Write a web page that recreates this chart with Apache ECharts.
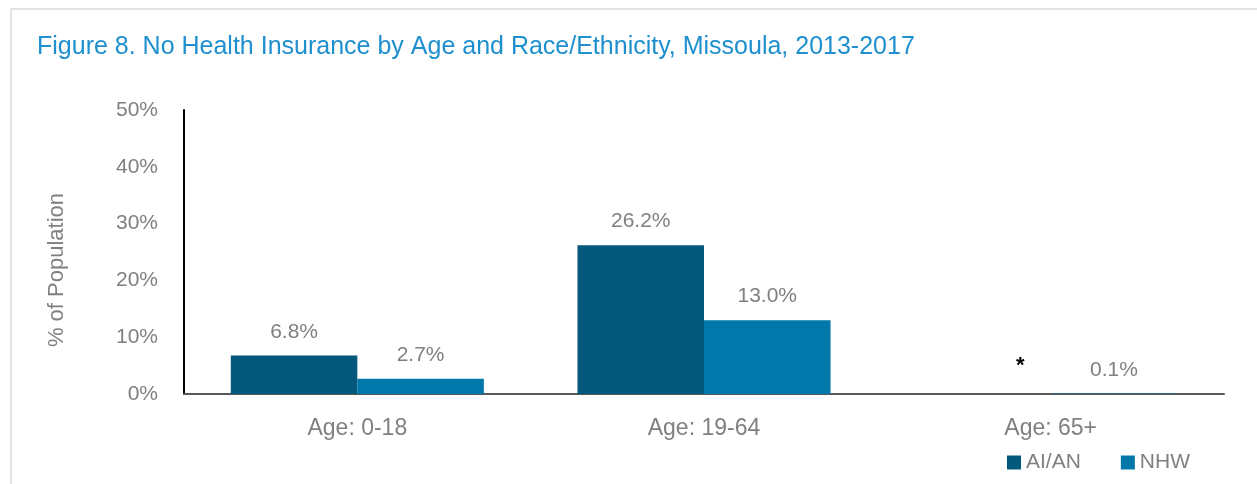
<!DOCTYPE html>
<html>
<head>
<meta charset="utf-8">
<script src="https://cdn.jsdelivr.net/npm/echarts@6/dist/echarts.min.js"></script>
<style>
  html, body { margin: 0; padding: 0; background: #fff; }
  #chart { width: 1257px; height: 484px; }
</style>
</head>
<body>
<div id="chart"></div>
<script>
  // data
  var categories = ['Age: 0-18', 'Age: 19-64', 'Age: 65+'];
  var aianValues = [6.8, 26.2, null]; // null = suppressed (*)
  var nhwValues = [2.7, 13.0, 0.1];
  var yTicks = [0, 10, 20, 30, 40, 50];

  var font = '"Liberation Sans Narrow", "Arial Narrow", "Liberation Sans", sans-serif';
  var gray = '#808080';

  var aianData = aianValues.map(function (v) {
    if (v === null) {
      return { value: 0, label: { formatter: '*', color: '#000', fontWeight: 'bold', fontSize: 22, offset: [33, -4] } };
    }
    return v;
  });

  var myChart = echarts.init(document.getElementById('chart'));
  var option = {
    backgroundColor: '#fff',
    animation: false,
    title: {
      text: 'Figure 8. No Health Insurance by Age and Race/Ethnicity, Missoula, 2013-2017',
      left: 32,
      top: 30,
      textStyle: { color: '#1E8FCF', fontSize: 25, fontWeight: 'normal', fontFamily: font }
    },
    graphic: [
      { type: 'line', shape: { x1: 10, y1: 9, x2: 1257, y2: 9 }, style: { stroke: '#e3e3e3', lineWidth: 2 } },
      { type: 'line', shape: { x1: 11, y1: 9, x2: 11, y2: 484 }, style: { stroke: '#e3e3e3', lineWidth: 2 } }
    ],
    legend: {
      right: 62,
      bottom: 6,
      itemWidth: 14,
      itemHeight: 14,
      itemGap: 40,
      icon: 'rect',
      textStyle: { color: gray, fontSize: 21, fontFamily: font },
      data: ['AI/AN', 'NHW']
    },
    grid: { left: 184, right: 33, top: 110, bottom: 90, containLabel: false },
    xAxis: {
      type: 'category',
      data: categories,
      axisLine: { lineStyle: { color: '#595959', width: 2 } },
      axisTick: { show: false },
      axisLabel: { color: gray, fontSize: 23, fontFamily: font, margin: 23 }
    },
    yAxis: {
      type: 'value',
      min: yTicks[0],
      max: yTicks[yTicks.length - 1],
      interval: 10,
      name: '% of Population',
      nameLocation: 'middle',
      nameGap: 116,
      nameTextStyle: { color: gray, fontSize: 22, fontFamily: font, padding: [0, 36, 0, 0] },
      axisLine: { show: true, lineStyle: { color: '#000', width: 2 } },
      axisTick: { show: false },
      splitLine: { show: false },
      axisLabel: {
        color: gray, fontSize: 21, fontFamily: font, margin: 26,
        formatter: function (v) { return v + '%'; }
      }
    },
    series: [
      {
        name: 'AI/AN',
        type: 'bar',
        data: aianData,
        barGap: '0%',
        barCategoryGap: '27%',
        itemStyle: { color: '#03587C' },
        label: {
          show: true, position: 'top', distance: 13,
          color: gray, fontSize: 21, fontFamily: font,
          formatter: function (p) { return p.value.toFixed(1) + '%'; }
        }
      },
      {
        name: 'NHW',
        type: 'bar',
        data: nhwValues,
        itemStyle: { color: '#0277AA' },
        label: {
          show: true, position: 'top', distance: 13,
          color: gray, fontSize: 21, fontFamily: font,
          formatter: function (p) { return p.value.toFixed(1) + '%'; }
        }
      }
    ]
  };
  myChart.setOption(option);
</script>
</body>
</html>
